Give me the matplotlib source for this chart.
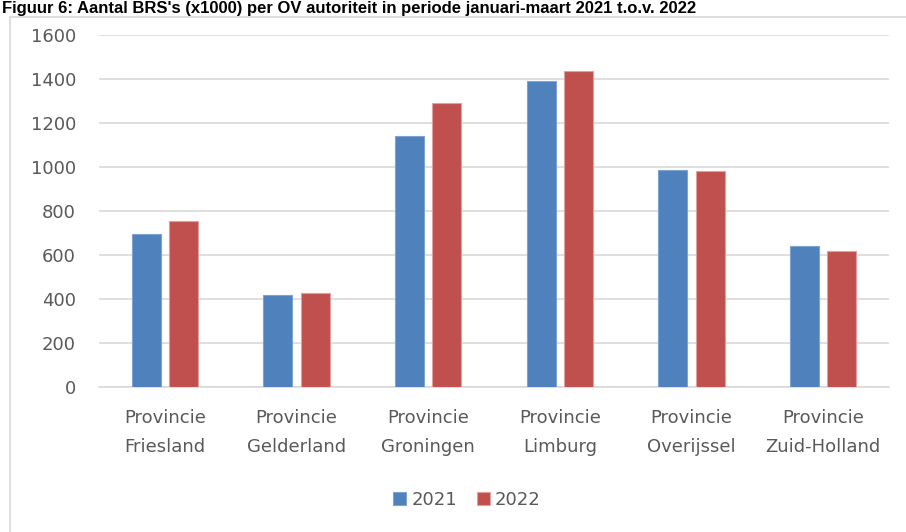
import matplotlib
matplotlib.use("Agg")
import matplotlib.pyplot as plt
import numpy as np
from matplotlib.patches import Rectangle

categories = ["Provincie\nFriesland", "Provincie\nGelderland", "Provincie\nGroningen",
              "Provincie\nLimburg", "Provincie\nOverijssel", "Provincie\nZuid-Holland"]
values_2021 = [695, 417, 1142, 1392, 988, 639]
values_2022 = [755, 426, 1292, 1435, 980, 618]
series_names = ["2021", "2022"]
yticks = [0, 200, 400, 600, 800, 1000, 1200, 1400, 1600]
title = "Figuur 6: Aantal BRS's (x1000) per OV autoriteit in periode januari-maart 2021 t.o.v. 2022"

W, H = 906, 532
fig = plt.figure(figsize=(W/100, H/100), dpi=100)
ax = fig.add_axes([99/W, 1-387/H, 790/W, (387-35)/H])

x = np.arange(len(categories))
bw = 0.22
off = 0.141
ax.bar(x - off, values_2021, bw, color="#4F81BD", edgecolor="#7FA3D1", linewidth=0.8,
       label=series_names[0], zorder=3)
ax.bar(x + off, values_2022, bw, color="#C0504D", edgecolor="#E0A0A0", linewidth=0.8,
       label=series_names[1], zorder=3)

ax.set_xlim(-0.5, len(categories) - 0.5)
ax.set_ylim(0, 1600)
ax.set_yticks(yticks)
ax.set_yticklabels([str(v) for v in yticks])
ax.set_xticks(x)
ax.set_xticklabels(categories, linespacing=1.75)
ax.grid(axis="y", color="#D9D9D9", linewidth=1.2, zorder=0)
for s in ["top", "right", "left"]:
    ax.spines[s].set_visible(False)
ax.spines["bottom"].set_color("#D9D9D9")
ax.spines["bottom"].set_linewidth(1.2)
ax.tick_params(axis="both", length=0, labelsize=13, colors="#595959")
ax.tick_params(axis="y", pad=16.5)
ax.tick_params(axis="x", pad=16)

leg = ax.legend(loc="center", bbox_to_anchor=((467-99)/790, (387-500)/(387-35)), ncol=2,
                frameon=False, fontsize=13, handlelength=0.7, handleheight=0.7,
                handletextpad=0.3, columnspacing=1.1)
for t in leg.get_texts():
    t.set_color("#595959")

fig.patches.append(Rectangle((10/W, -0.1), 2, 1 - 17/H + 0.1, transform=fig.transFigure,
                             fill=False, edgecolor="#D9D9D9", linewidth=1.2))

fig.text(2/W, 1 - 1/H, title, fontsize=12, fontweight="bold", ha="left", va="top",
         family="Liberation Sans", color="black")

fig.savefig("out.png", dpi=100)
